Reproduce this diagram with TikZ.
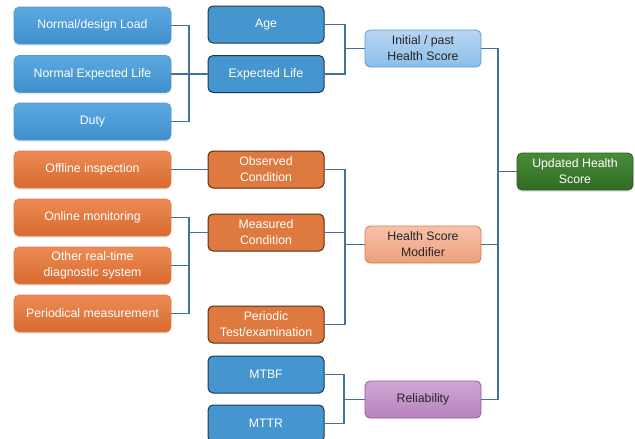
\documentclass[tikz,border=0pt]{standalone}
\usepackage{fontspec}
\setmainfont{Liberation Sans}
\usetikzlibrary{shadows}
\definecolor{conn}{HTML}{41719C}
\begin{document}
\begin{tikzpicture}[x=1pt,y=-1pt,
  base/.style={rounded corners=5pt, minimum height=37pt, align=center, inner sep=2pt,
    font=\fontsize{12.3}{16}\selectfont},
  lblue/.style={base, minimum width=157pt, text=white,
    top color={rgb,255:red,92;green,169;blue,224}, bottom color={rgb,255:red,62;green,143;blue,204},
    draw={rgb,255:red,80;green,155;blue,210}, line width=0.6pt,
    drop shadow={shadow xshift=0pt, shadow yshift=-2pt, opacity=0.15}},
  dblue/.style={base, minimum width=116pt, text=white, fill={rgb,255:red,69;green,150;blue,207},
    draw={rgb,255:red,30;green,55;blue,80}, line width=1pt},
  lorange/.style={base, minimum width=157pt, text=white,
    top color={rgb,255:red,235;green,140;blue,85}, bottom color={rgb,255:red,217;green,106;blue,46},
    draw={rgb,255:red,225;green,125;blue,70}, line width=0.6pt,
    drop shadow={shadow xshift=0pt, shadow yshift=-2pt, opacity=0.15}},
  dorange/.style={base, minimum width=116pt, text=white, fill={rgb,255:red,222;green,122;blue,64},
    draw={rgb,255:red,90;green,43;blue,18}, line width=1pt},
  initbox/.style={base, minimum width=116pt, text=black!85,
    top color={rgb,255:red,183;green,214;blue,241}, bottom color={rgb,255:red,140;green,190;blue,232},
    draw={rgb,255:red,91;green,155;blue,213}, line width=0.8pt},
  modbox/.style={base, minimum width=116pt, text=black!85,
    top color={rgb,255:red,246;green,194;blue,170}, bottom color={rgb,255:red,235;green,160;blue,124},
    draw={rgb,255:red,224;green,123;blue,74}, line width=0.8pt},
  relbox/.style={base, minimum width=116pt, text=black!85,
    top color={rgb,255:red,207;green,166;blue,211}, bottom color={rgb,255:red,183;green,131;blue,190},
    draw={rgb,255:red,160;green,80;blue,168}, line width=0.8pt},
  updbox/.style={base, minimum width=116pt, text=white,
    top color={rgb,255:red,74;green,140;blue,58}, bottom color={rgb,255:red,47;green,107;blue,34},
    draw={rgb,255:red,42;green,90;blue,30}, line width=0.8pt,
    drop shadow={shadow xshift=0pt, shadow yshift=-2pt, opacity=0.2}},
  link/.style={draw=conn, line width=1.3pt}
]
\useasboundingbox (0,0) rectangle (635,439);
% left column
\node[lblue] (ndl) at (92.5,25.5) {Normal/design Load};
\node[lblue] (nel) at (92.5,74) {Normal Expected Life};
\node[lblue] (duty) at (92.5,121.5) {Duty};
\node[lorange] (off) at (92.5,169.5) {Offline inspection};
\node[lorange] (onl) at (92.5,217.5) {Online monitoring};
\node[lorange] (oth) at (92.5,265.5) {Other real-time\\diagnostic system};
\node[lorange] (per) at (92.5,313.5) {Periodical measurement};
% second column
\node[dblue] (age) at (266,24.5) {Age};
\node[dblue] (exl) at (266,74) {Expected Life};
\node[dorange] (obs) at (266,169.5) {Observed\\Condition};
\node[dorange] (mea) at (266,232.5) {Measured\\Condition};
\node[dorange] (pte) at (266,324.5) {Periodic\\Test/examination};
\node[dblue] (mtbf) at (266,374.5) {MTBF};
\node[dblue] (mttr) at (266,423.5) {MTTR};
% third column
\node[initbox] (ini) at (423,48.5) {Initial / past\\Health Score};
\node[modbox] (mod) at (423,244.5) {Health Score\\Modifier};
\node[relbox] (rel) at (423,399.5) {Reliability};
% fourth
\node[updbox] (upd) at (575,171.5) {Updated Health\\Score};
% junction coordinates
\coordinate (j1) at (189,0);
\coordinate (j2) at (345,0);
\coordinate (j3) at (498,0);
\coordinate (j4) at (344,0);
% connectors
\draw[link] (ndl.east) -| (j1 |- duty.east) -- (duty.east);
\draw[link] (nel.east) -- (exl.west);
\draw[link] (age.east) -| (j2 |- exl.east) -- (exl.east);
\draw[link] (j2 |- ini.west) -- (ini.west);
\draw[link] (ini.east) -| (j3 |- rel.east) -- (rel.east);
\draw[link] (mod.east) -- (j3 |- mod.east);
\draw[link] (j3 |- upd.west) -- (upd.west);
\draw[link] (off.east) -- (obs.west);
\draw[link] (onl.east) -| (j1 |- per.east) -- (per.east);
\draw[link] (oth.east) -- (j1 |- oth.east);
\draw[link] (j1 |- mea.west) -- (mea.west);
\draw[link] (obs.east) -| (j2 |- pte.east) -- (pte.east);
\draw[link] (mea.east) -- (j2 |- mea.east);
\draw[link] (j2 |- mod.west) -- (mod.west);
\draw[link] (mtbf.east) -| (j4 |- mttr.east) -- (mttr.east);
\draw[link] (j4 |- rel.west) -- (rel.west);
\end{tikzpicture}
\end{document}
